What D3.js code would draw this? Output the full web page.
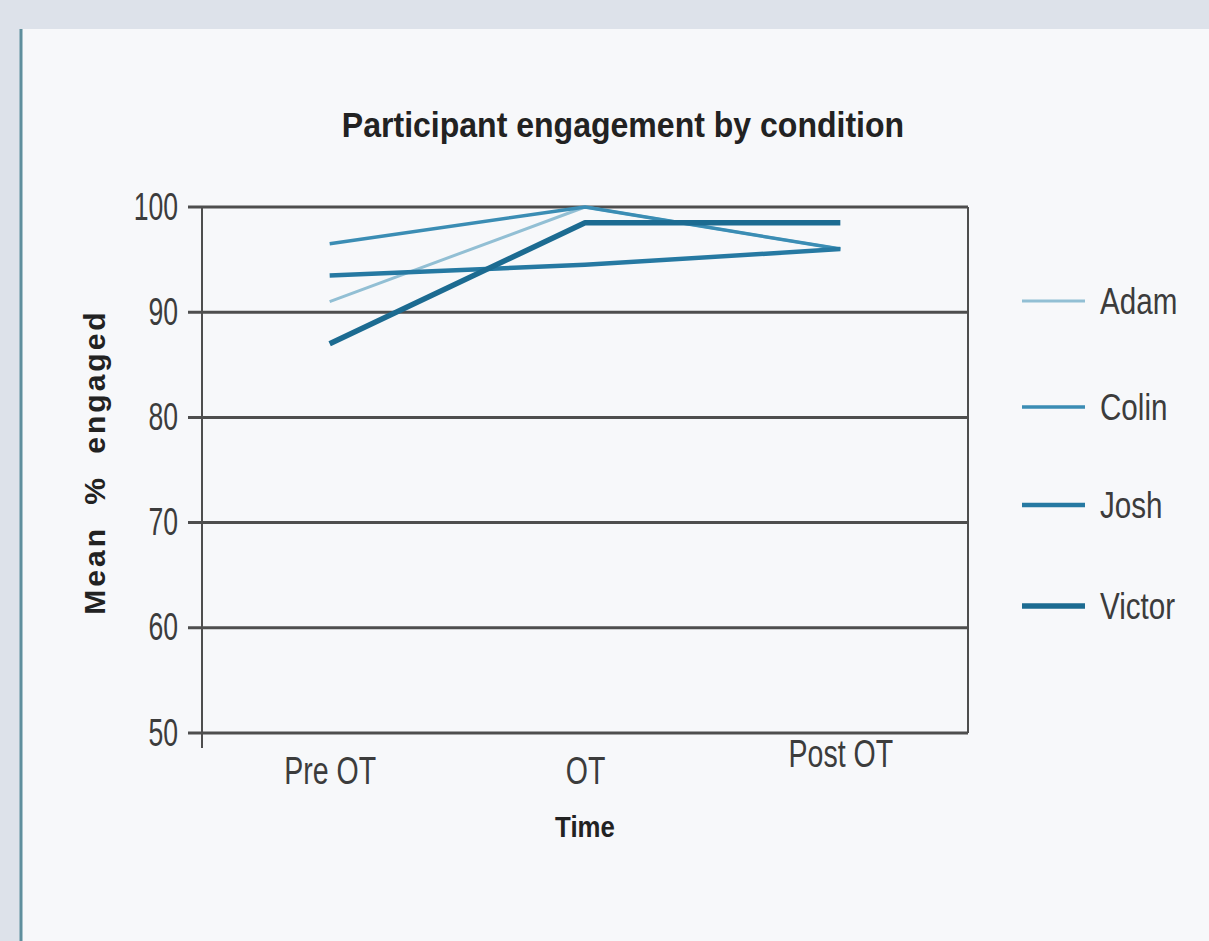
<!DOCTYPE html>
<html><head><meta charset="utf-8">
<script src="https://cdn.jsdelivr.net/npm/d3@7"></script>
<style>
html,body{margin:0;padding:0;background:#dde2ea;}
svg{display:block;}
text{font-family:"Liberation Sans",Arial,sans-serif;}
.cond{transform-box:fill-box;}
</style></head>
<body>
<svg id="chart" width="1209" height="941"></svg>
<script>
const categories = ["Pre OT", "OT", "Post OT"];
const seriesNames = ["Adam", "Colin", "Josh", "Victor"];
const adam   = [91, 100, 96];
const colin  = [96.5, 100, 96];
const josh   = [93.5, 94.5, 96];
const victor = [87, 98.5, 98.5];
const yTicks = [50, 60, 70, 80, 90, 100];
const colors = ["#92bfd4", "#3b8db4", "#2679a2", "#1c6b91"];
const widths = [3, 3.5, 4.5, 5.5];

(function(){
const series = [adam, colin, josh, victor];
const svg = d3.select("#chart");

svg.append("rect").attr("x",0).attr("y",0).attr("width",1209).attr("height",941).attr("fill","#dde2ea");
svg.append("rect").attr("x",20).attr("y",29).attr("width",1189).attr("height",912).attr("fill","#f7f8fa");
svg.append("line").attr("x1",21).attr("x2",21).attr("y1",29).attr("y2",941).attr("stroke","#5f8f9d").attr("stroke-width",3);

const pL = 202, pR = 968, pT = 207, pB = 733;
const x = d3.scalePoint().domain(categories).range([pL, pR]).padding(0.5);
const y = d3.scaleLinear().domain([50, 100]).range([pB, pT]);

svg.append("g").selectAll("line").data(yTicks).join("line")
  .attr("x1", pL - 14).attr("x2", pR)
  .attr("y1", d => y(d)).attr("y2", d => y(d))
  .attr("stroke", "#4e4e4e").attr("stroke-width", 3);
svg.append("line").attr("x1", pR).attr("x2", pR).attr("y1", pT).attr("y2", pB)
  .attr("stroke", "#4e4e4e").attr("stroke-width", 2);
svg.append("line").attr("x1", pL).attr("x2", pL).attr("y1", pT).attr("y2", pB + 15)
  .attr("stroke", "#4e4e4e").attr("stroke-width", 2);

const yAxis = d3.axisLeft(y).tickValues(yTicks).tickSize(0).tickPadding(24);
const ya = svg.append("g").attr("transform", `translate(${pL},0)`).call(yAxis);
ya.select(".domain").remove();
ya.selectAll("text").attr("font-size", 38).attr("fill", "#3c3c3c")
  .attr("font-family", '"Liberation Sans",Arial,sans-serif')
  .attr("class", "cond")
  .style("transform-origin", "right center").style("transform", "scaleX(0.7)");

const xAxis = d3.axisBottom(x).tickSize(0).tickPadding(24);
const xa = svg.append("g").attr("transform", `translate(0,${pB})`).call(xAxis);
xa.select(".domain").remove();
xa.selectAll("text").attr("font-size", 38).attr("fill", "#3c3c3c")
  .attr("font-family", '"Liberation Sans",Arial,sans-serif')
  .attr("dy", d => d === "Post OT" ? "0.26em" : "0.71em")
  .attr("class", "cond")
  .style("transform-origin", "center").style("transform", "scaleX(0.75)");

const line = d3.line().x((d, i) => x(categories[i])).y(d => y(d));
svg.append("g").selectAll("path").data(series).join("path")
  .attr("d", d => line(d))
  .attr("fill", "none")
  .attr("stroke", (d, i) => colors[i])
  .attr("stroke-width", (d, i) => widths[i])
  .attr("stroke-linejoin", "round");

const legY = [301, 407, 505, 606];
const leg = svg.append("g").selectAll("g").data(seriesNames).join("g")
  .attr("transform", (d, i) => `translate(1022,${legY[i]})`);
leg.append("line").attr("x1", 0).attr("x2", 63).attr("y1", 0).attr("y2", 0)
  .attr("stroke", (d, i) => colors[i]).attr("stroke-width", (d, i) => widths[i]);
leg.append("text").attr("x", 78).attr("y", 0).attr("dy", "0.36em")
  .attr("font-size", 37).attr("fill", "#3c3c3c").text(d => d)
  .attr("class", "cond")
  .style("transform-origin", "left center").style("transform", "scaleX(0.8)");

svg.append("text").attr("x", 623).attr("y", 137).attr("text-anchor", "middle")
  .attr("font-size", 36).attr("font-weight", "bold").attr("fill", "#222")
  .attr("class", "cond")
  .style("transform-origin", "center").style("transform", "scaleX(0.89)")
  .text("Participant engagement by condition");
svg.append("text").attr("transform", "translate(105,462) rotate(-90)").attr("text-anchor", "middle")
  .attr("font-size", 30).attr("font-weight", "bold").attr("fill", "#222")
  .attr("font-family", '"DejaVu Sans",sans-serif')
  .attr("letter-spacing", 3).attr("word-spacing", 10)
  .text("Mean % engaged");
svg.append("text").attr("x", 585).attr("y", 837).attr("text-anchor", "middle")
  .attr("font-size", 30).attr("font-weight", "bold").attr("fill", "#222")
  .attr("class", "cond")
  .style("transform-origin", "center").style("transform", "scaleX(0.86)")
  .text("Time");
})();
</script>
</body></html>
